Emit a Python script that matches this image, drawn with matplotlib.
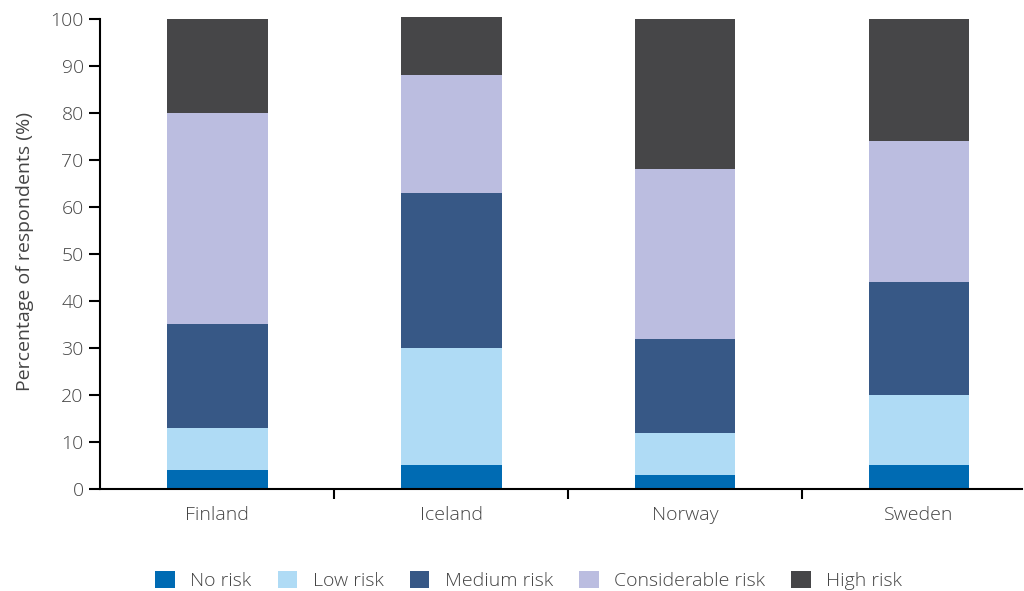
import matplotlib.pyplot as plt
import numpy as np

countries = ['Finland', 'Iceland', 'Norway', 'Sweden']
risk_levels = ['No risk', 'Low risk', 'Medium risk', 'Considerable risk', 'High risk']
no_risk = [4, 5, 3, 5]
low_risk = [9, 25, 9, 15]
medium_risk = [22, 33, 20, 24]
considerable_risk = [45, 25, 36, 30]
high_risk = [20, 12.5, 32, 26]
colors = ['#006bb3', '#afdbf5', '#375886', '#bbbde0', '#464648']

plt.rcParams['font.family'] = ['Open Sans', 'DejaVu Sans']
plt.rcParams['font.weight'] = 'light'
text_color = '#444444'
fs = 14

fig = plt.figure(figsize=(10.24, 5.91), dpi=100)
ax = fig.add_axes([0.098, 0.1726, 0.9, 0.8033])

x = np.arange(len(countries))
width = 0.43
bottom = np.zeros(len(countries))
for name, vals, c in zip(risk_levels,
                         [no_risk, low_risk, medium_risk, considerable_risk, high_risk],
                         colors):
    ax.bar(x, vals, width, bottom=bottom, color=c, label=name)
    bottom += np.array(vals)

ax.set_xlim(-0.5, 3.44)
ax.set_ylim(0, 101)
ax.set_yticks(np.arange(0, 101, 10))
ax.tick_params(axis='y', direction='out', length=8, width=1.5, colors='black',
               labelcolor=text_color, labelsize=fs, pad=4)

ax.set_xticks([0.5, 1.5, 2.5])
ax.set_xticklabels([])
ax.tick_params(axis='x', direction='out', length=7, width=1.5)
ax.set_xticks(x, minor=True)
ax.set_xticklabels(countries, minor=True)
ax.tick_params(axis='x', which='minor', length=0, labelsize=fs, labelcolor=text_color, pad=12)

for side in ['top', 'right']:
    ax.spines[side].set_visible(False)
ax.spines['left'].set_linewidth(1.5)
ax.spines['left'].set_bounds(0, 100)
ax.spines['bottom'].set_linewidth(1.5)

ax.set_ylabel('Percentage of respondents (%)', fontsize=fs, color=text_color, labelpad=12)

ax.legend(loc='upper center', bbox_to_anchor=(0.465, -0.135), ncol=5, frameon=False,
          fontsize=fs, labelcolor=text_color, handlelength=1.0, handleheight=1.0,
          handletextpad=0.8, columnspacing=1.35)

fig.savefig('out.png', dpi=100)
